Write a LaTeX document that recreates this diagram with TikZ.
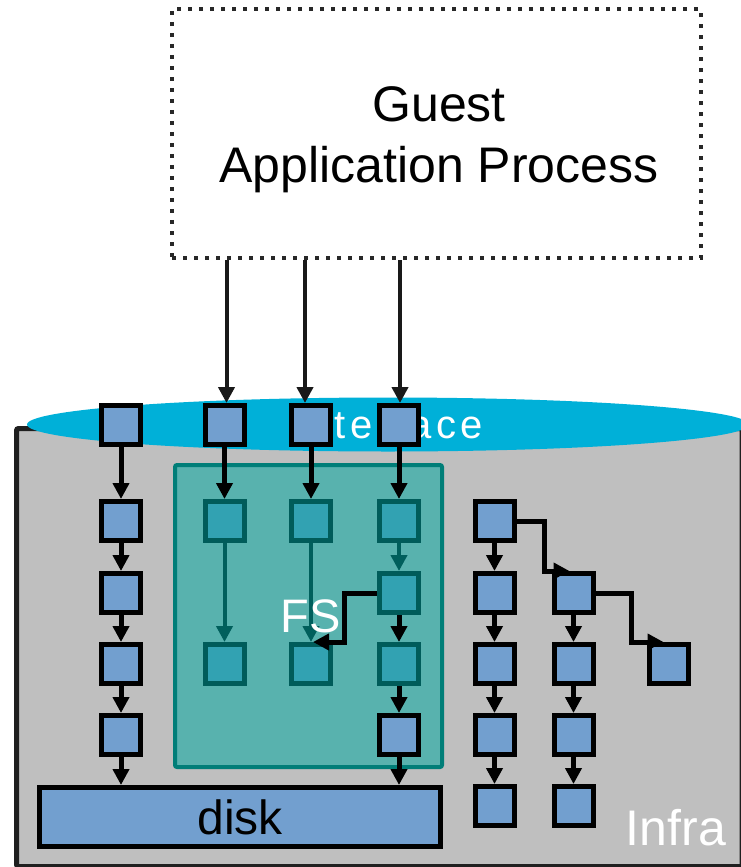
\documentclass[tikz,border=0pt]{standalone}
\usepackage{fontspec}
\setmainfont{Liberation Sans}
\usetikzlibrary{arrows.meta,shapes.geometric}

\definecolor{infragray}{RGB}{191,191,191}
\definecolor{ifcyan}{RGB}{0,176,216}
\definecolor{sqblue}{RGB}{114,159,207}
\definecolor{sqteal}{RGB}{50,162,178}
\definecolor{sqtealedge}{RGB}{0,92,90}
\definecolor{fsfill}{RGB}{88,178,174}
\definecolor{fsedge}{RGB}{0,126,120}
\definecolor{tealline}{RGB}{0,95,92}
\definecolor{dotgray}{RGB}{40,40,40}

\tikzset{
  blk/.style={draw=black, line width=5pt, fill=sqblue, minimum size=39pt, inner sep=0pt},
  fsq/.style={draw=sqtealedge, line width=5pt, fill=sqteal, minimum size=39pt, inner sep=0pt},
  arr/.style={draw=black, line width=5pt, -{Triangle[length=16pt,width=16pt]}},
  tarr/.style={draw=tealline, line width=4pt, -{Triangle[length=16pt,width=16pt]}},
  garr/.style={draw=black!90, line width=4pt, -{Triangle[length=16pt,width=16pt]}},
  whitelabel/.style={text=white, inner sep=0pt},
}

\begin{document}
\begin{tikzpicture}[x=1pt,y=-1pt]
\useasboundingbox (0,0) rectangle (740,867);

% infrastructure container
\draw[fill=infragray, draw=black!88, line width=5pt, rounded corners=2pt]
  (16.5,428.5) rectangle (742,866.5);

% interface rim with its label
\node[ellipse, fill=ifcyan, minimum width=722pt, minimum height=54pt, inner sep=0pt,
      text=white, font={\fontsize{40}{48}\selectfont\addfontfeatures{LetterSpace=10.8}}]
  (iface) at (388,424.5) {Interface};

% file system region
\node[draw=fsedge, fill=fsfill, line width=4pt, rounded corners=2pt,
      minimum width=267pt, minimum height=302pt, inner sep=0pt] (fs) at (308.5,616) {};

% column A
\node[blk] (A0) at (121,425) {};
\node[blk] (A1) at (121,521) {};
\node[blk] (A2) at (121,593) {};
\node[blk] (A3) at (121,664) {};
\node[blk] (A4) at (121,735) {};
% column B
\node[blk] (B0) at (224.5,425) {};
\node[fsq] (B1) at (224.5,521) {};
\node[fsq] (B3) at (224.5,664) {};
% column C
\node[blk] (C0) at (311,425) {};
\node[fsq] (C1) at (311,521) {};
\node[fsq] (C3) at (311,664) {};
% column D
\node[blk] (D0) at (399,425) {};
\node[fsq] (D1) at (399,521) {};
\node[fsq] (D2) at (399,593) {};
\node[fsq] (D3) at (399,664) {};
\node[blk] (D4) at (399,735) {};
% column E
\node[blk] (E1) at (494.5,521) {};
\node[blk] (E2) at (494.5,593) {};
\node[blk] (E3) at (494.5,664) {};
\node[blk] (E4) at (494.5,735) {};
\node[blk] (E5) at (494.5,806) {};
% column F
\node[blk] (F2) at (573.5,593) {};
\node[blk] (F3) at (573.5,664) {};
\node[blk] (F4) at (573.5,735) {};
\node[blk] (F5) at (573.5,806) {};
% column G
\node[blk] (G3) at (668.5,664) {};

% disk
\node[blk, minimum width=401pt, minimum height=59pt, font=\fontsize{48}{56}\selectfont]
  (disk) at (240,817) {disk};

% black connectors
\draw[arr] (A0) -- (A1);
\draw[arr] (A1) -- (A2);
\draw[arr] (A2) -- (A3);
\draw[arr] (A3) -- (A4);
\draw[arr] (A4) -- (A4 |- disk.north);
\draw[arr] (B0) -- (B1);
\draw[arr] (C0) -- (C1);
\draw[arr] (D0) -- (D1);
\draw[arr] (D2) -- (D3);
\draw[arr] (D3) -- (D4);
\draw[arr] (D4) -- (D4 |- disk.north);
\draw[arr] (E1) -- (E2);
\draw[arr] (E2) -- (E3);
\draw[arr] (E3) -- (E4);
\draw[arr] (E4) -- (E5);
\draw[arr] (F2) -- (F3);
\draw[arr] (F3) -- (F4);
\draw[arr] (F4) -- (F5);
\draw[arr] (E1.east) -- ++(28,0) |- ([xshift=-4pt]F2.north);
\draw[arr] (F2.east) -- ++(36,0) |- ([xshift=-5pt]G3.north);
\draw[arr] (D2.west) -- ++(-33,0) |- ([xshift=2pt]C3.north);

% teal connectors inside the file system
\draw[tarr] (B1) -- (B3);
\draw[tarr] (C1) -- (C3);
\draw[tarr] (D1) -- (D2);

% region labels
\node[whitelabel, anchor=base, font=\fontsize{47}{56}\selectfont] (fslabel) at (311,632) {FS};
\node[whitelabel, anchor=base, font=\fontsize{50}{60}\selectfont] (infralabel) at (676,845) {Infra};

% guest process
\node[draw=dotgray, line width=4.3pt, dash pattern=on 4.3pt off 6.7pt,
      minimum width=529pt, minimum height=249pt, inner sep=0pt] (guest) at (436.5,133.5) {};
\node[align=center, font=\fontsize{50}{61}\selectfont, inner sep=0pt] (guesttext) at (439,139.5)
  {Guest\\Application Process};

\draw[garr] ([xshift=2pt]B0.north |- guest.south) -- ([xshift=2pt]B0.north);
\draw[garr] ([xshift=-6pt]C0.north |- guest.south) -- ([xshift=-6pt]C0.north);
\draw[garr] ([xshift=1pt]D0.north |- guest.south) -- ([xshift=1pt]D0.north);
\end{tikzpicture}
\end{document}
